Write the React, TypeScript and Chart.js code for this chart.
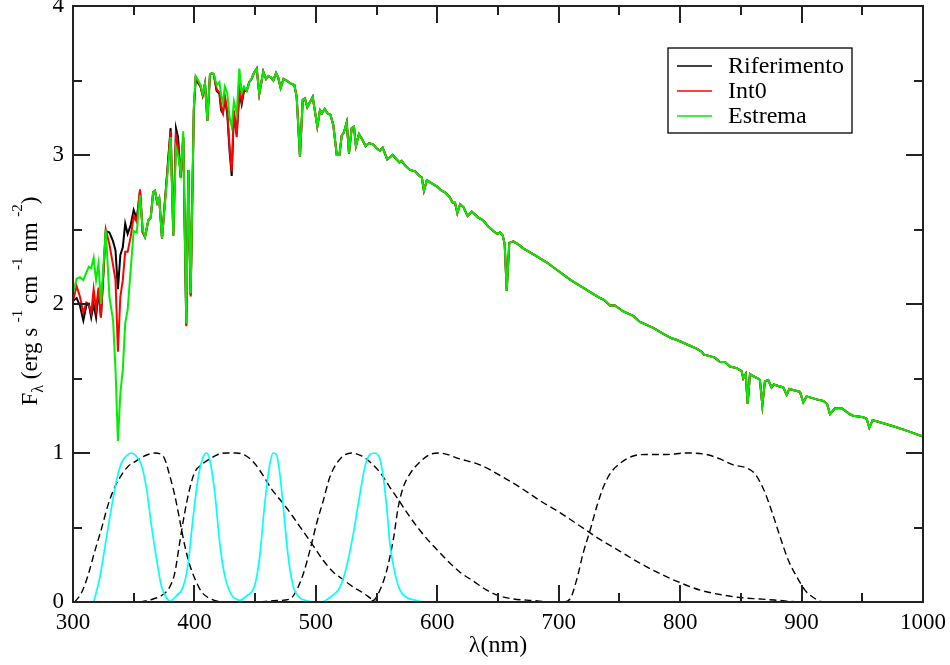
import React, { useEffect, useRef } from "react";
import { Chart, registerables } from "chart.js";

Chart.register(...registerables);

// ---------- Spectrum (UV part, where the three models differ) ----------
const wavelengthsUV = [
  300, 303, 305.7, 308.5, 311, 313, 315, 317, 319, 321, 323, 327, 330, 333, 335, 337, 339, 341, 343, 345,
  347.5, 350, 352.5, 355.2, 357.4, 359.3, 362, 364, 366, 367.5, 369.4, 371, 373.3, 380.4, 382.6, 384.8,
  386.5, 388.7, 390.8, 393.3, 395, 396.9, 399.5, 401, 403.2, 405, 406.8, 408.7, 410.7, 412.8, 414.5, 416,
  418.3, 420.6, 422, 423.5, 425, 427, 429, 430.7, 432.5, 434.8, 437, 438.9, 440.8,
];
const riferimentoUV = [
  2.02, 2.04, 1.99, 1.89, 1.99, 2.0, 1.91, 2.0, 1.91, 2.09, 1.91, 2.49, 2.48, 2.42, 2.36, 2.1, 2.33, 2.38, 2.54, 2.47,
  2.53, 2.63, 2.57, 2.76, 2.48, 2.45, 2.56, 2.58, 2.75, 2.76, 2.68, 2.71, 2.44, 3.18, 2.46, 3.18,
  3.12, 2.85, 3.12, 1.86, 2.9, 2.06, 3.3, 3.51, 3.48, 3.46, 3.4, 3.48, 3.23, 3.54, 3.55, 3.54,
  3.43, 3.41, 3.3, 3.28, 3.38, 3.28, 3.02, 2.86, 3.28, 3.14, 3.42, 3.34, 3.43,
];
const int0UV = [
  2.02, 2.12, 2.05, 1.94, 2.01, 2.0, 1.94, 2.1, 1.96, 2.11, 1.91, 2.5, 2.4, 2.26, 2.16, 1.68, 2.05, 2.16, 2.35, 2.35,
  2.45, 2.59, 2.55, 2.77, 2.48, 2.45, 2.56, 2.58, 2.75, 2.76, 2.68, 2.71, 2.44, 3.16, 2.46, 3.13,
  3.06, 2.85, 3.12, 1.85, 2.9, 2.05, 3.3, 3.52, 3.49, 3.46, 3.4, 3.48, 3.23, 3.54, 3.55, 3.54,
  3.44, 3.42, 3.32, 3.28, 3.4, 3.3, 3.05, 2.89, 3.3, 3.12, 3.45, 3.36, 3.44,
];
const estremaUV = [
  2.07, 2.17, 2.18, 2.16, 2.21, 2.25, 2.24, 2.31, 2.16, 2.27, 2.0, 2.5, 2.05, 1.89, 1.56, 1.08, 1.4, 1.56, 1.87, 1.96,
  2.23, 2.49, 2.48, 2.73, 2.5, 2.45, 2.56, 2.58, 2.75, 2.76, 2.68, 2.71, 2.44, 3.12, 2.46, 3.05,
  3.0, 2.88, 3.16, 1.87, 2.9, 2.07, 3.32, 3.53, 3.5, 3.47, 3.41, 3.48, 3.23, 3.54, 3.55, 3.54,
  3.47, 3.49, 3.4, 3.35, 3.46, 3.42, 3.25, 3.19, 3.36, 3.28, 3.58, 3.42, 3.46,
];

// ---------- Spectrum (visible/NIR part, the three models coincide) ----------
const wavelengthsVis = [
  443, 445.2, 447, 449, 451.3, 453.4, 456.7, 459, 461, 463, 465, 467.2, 469, 471, 473.4, 476, 479, 482.3, 484.2,
  486.9, 489.2, 491, 493, 497.4, 501.2, 503.4, 505, 507.3, 509.5, 512, 514.4, 517.2, 519.4, 521.3, 523, 525.4,
  527.3, 529.5, 531.4, 533, 535.5, 537.7, 541, 543.8, 547.4, 550.6, 552.8, 555, 558.8, 563.3, 566.6, 568.8,
  570.7, 573.4, 577.5, 581.7, 585.2, 587.2, 589, 591.4, 595.5, 599.6, 603.6, 606.4, 610, 612.7, 614.6, 616.5,
  618.8, 621.5, 625, 628.4, 631.1, 633.9, 638, 642, 646.2, 649.5, 651.7, 653.9, 655.5, 657.2, 659.3, 662.6,
  666.7, 671.4, 680, 690, 700, 710, 720, 728, 734, 737, 742.2, 746.3, 753.2, 761.4, 766.9, 772.4, 777.9,
  786.1, 793, 797.1, 805.3, 813.6, 817.7, 819.6, 824.5, 828.6, 832.8, 836.9, 841, 846.6, 850.6, 852, 854,
  855.6, 857.5, 861.6, 864.4, 865.7, 867.7, 869.8, 872.6, 875.3, 877.2, 880.8, 884.9, 887.7, 889.9, 894.5,
  898.7, 901.4, 904.2, 908.3, 912.4, 917.9, 921, 923.4, 927.5, 933, 939.8, 942.5, 950.8, 953.6, 955.8, 958.5,
  963.2, 967.3, 975.5, 986.5, 1000,
];
const fluxVis = [
  3.43, 3.49, 3.51, 3.55, 3.58, 3.41, 3.56, 3.51, 3.53, 3.52, 3.5, 3.55, 3.52, 3.45, 3.51, 3.5, 3.48, 3.47, 3.39,
  2.99, 3.37, 3.38, 3.32, 3.39, 3.19, 3.3, 3.28, 3.31, 3.28, 3.27, 3.2, 3.0, 3.0, 3.13, 3.15, 3.22,
  3.01, 3.18, 3.19, 3.06, 3.14, 3.11, 3.06, 3.08, 3.07, 3.04, 3.03, 3.05, 2.97, 3.0, 2.97, 2.95,
  2.96, 2.93, 2.9, 2.89, 2.86, 2.85, 2.76, 2.83, 2.81, 2.79, 2.76, 2.75, 2.72, 2.68, 2.68, 2.61,
  2.67, 2.65, 2.59, 2.62, 2.6, 2.58, 2.56, 2.52, 2.49, 2.47, 2.48, 2.46, 2.4, 2.09, 2.41, 2.42,
  2.4, 2.37, 2.33, 2.28, 2.22, 2.16, 2.11, 2.07, 2.04, 2.03, 1.99, 1.99, 1.95, 1.92, 1.88, 1.86, 1.84,
  1.8, 1.77, 1.76, 1.73, 1.7, 1.68, 1.66, 1.65, 1.64, 1.61, 1.61, 1.58, 1.57, 1.55, 1.5, 1.53,
  1.33, 1.53, 1.51, 1.5, 1.49, 1.32, 1.48, 1.49, 1.44, 1.46, 1.45, 1.44, 1.39, 1.43, 1.42,
  1.41, 1.34, 1.38, 1.37, 1.36, 1.35, 1.33, 1.26, 1.3, 1.3, 1.26, 1.25, 1.24, 1.23, 1.17, 1.22,
  1.21, 1.2, 1.18, 1.15, 1.11,
];

// ---------- Narrow-band filters (cyan, solid) ----------
const filterULam = [317, 322, 327.5, 331.6, 335.7, 339.8, 343.9, 348, 352, 356.3, 360.4, 364.5, 368.6, 372.7, 376.8, 380.1];
const filterUVal = [0, 0.16, 0.43, 0.63, 0.81, 0.93, 0.98, 1.0, 0.98, 0.92, 0.77, 0.52, 0.3, 0.11, 0.03, 0];
const filterVLam = [380, 385, 390.6, 394.7, 398.8, 403, 407, 409.8, 412.5, 416.7, 420.8, 424.9, 430.4, 437.2, 441];
const filterVVal = [0, 0.04, 0.1, 0.25, 0.56, 0.83, 0.97, 1.0, 0.96, 0.74, 0.4, 0.18, 0.05, 0.01, 0];
const filterBLam = [436, 442.7, 449.6, 453.7, 457.8, 462, 464.7, 467.5, 470.2, 473.5, 477, 481.2, 486.6, 492, 497.6];
const filterBVal = [0, 0.04, 0.11, 0.3, 0.65, 0.92, 1.0, 0.99, 0.87, 0.61, 0.32, 0.11, 0.03, 0.01, 0];
const filterYLam = [506, 513, 519.9, 525.4, 530.9, 536.4, 540.5, 544.6, 548.7, 552.8, 555.5, 558.3, 561, 565.2, 569.3, 574.8, 583, 588.5];
const filterYVal = [0, 0.04, 0.1, 0.24, 0.46, 0.73, 0.91, 0.99, 1.0, 0.96, 0.84, 0.64, 0.39, 0.19, 0.08, 0.03, 0.01, 0];

// ---------- Broad-band filters (black, dashed) ----------
const bandULam = [301.4, 306.9, 312.4, 317.9, 323.4, 328.8, 334.3, 339.8, 345.3, 350.8, 356.3, 361.8, 367.3, 372.8, 375.5, 379.6, 383.7, 387.9, 392, 396.1, 400.2, 405.7, 411.2, 416.7, 423.5];
const bandUVal = [0, 0.06, 0.18, 0.34, 0.49, 0.65, 0.77, 0.85, 0.91, 0.94, 0.97, 0.99, 1.0, 0.99, 0.96, 0.85, 0.72, 0.55, 0.38, 0.25, 0.16, 0.07, 0.03, 0.01, 0];
const bandBLam = [355, 366, 374.1, 379.6, 383.7, 387.9, 392, 396.1, 400.2, 405.7, 412.6, 419.4, 426.3, 434.5, 442.7, 449.6, 456.5, 463.3, 470.2, 477, 483.9, 490.8, 497.6, 506, 514.4, 522.6, 530.8, 539.1, 546, 550];
const bandBVal = [0, 0.02, 0.05, 0.1, 0.19, 0.4, 0.6, 0.76, 0.87, 0.92, 0.96, 0.99, 1.0, 1.0, 0.98, 0.93, 0.85, 0.76, 0.69, 0.62, 0.54, 0.46, 0.38, 0.28, 0.2, 0.15, 0.1, 0.06, 0.02, 0];
const bandVLam = [454, 467.7, 478.7, 484.2, 489.7, 495.2, 500.7, 506.1, 511.6, 519.9, 529.5, 537.7, 544.6, 552.8, 561, 569.3, 577.5, 585.8, 594, 602.2, 610.5, 618.7, 629.7, 640.7, 651.6, 662.6, 679, 695.5, 706.5];
const bandVVal = [0, 0.01, 0.02, 0.08, 0.19, 0.35, 0.53, 0.68, 0.84, 0.96, 1.0, 0.98, 0.94, 0.87, 0.77, 0.67, 0.57, 0.48, 0.4, 0.33, 0.26, 0.2, 0.14, 0.08, 0.04, 0.02, 0.01, 0, 0];
const bandRLam = [537, 547.3, 552.8, 558.3, 563.8, 567.9, 572, 577.5, 585.8, 594, 601.5, 618.7, 635.2, 651.6, 668.1, 684.6, 701, 717.5, 734, 750.5, 767, 783.4, 799.9, 816.4, 832.8, 849.3, 865.8, 882.2, 898.7, 909.7];
const bandRVal = [0, 0.01, 0.08, 0.21, 0.42, 0.64, 0.77, 0.86, 0.94, 0.99, 1.0, 0.96, 0.92, 0.85, 0.77, 0.68, 0.6, 0.51, 0.42, 0.34, 0.26, 0.19, 0.13, 0.08, 0.05, 0.03, 0.02, 0.01, 0, 0];
const bandILam = [695.5, 703.8, 709.3, 714.8, 720.2, 725.8, 731.3, 736.7, 742.2, 750.5, 761.4, 772.4, 788.9, 805.4, 821.8, 832.8, 843.8, 854.8, 861.6, 868.5, 875.4, 882.2, 889.1, 896, 902.8, 909.7, 918, 923];
const bandIVal = [0, 0, 0.02, 0.15, 0.33, 0.48, 0.64, 0.77, 0.86, 0.93, 0.98, 0.99, 0.99, 1.0, 0.99, 0.96, 0.92, 0.9, 0.86, 0.76, 0.61, 0.44, 0.28, 0.17, 0.08, 0.03, 0, 0];

// ---------- Axes ----------
const xMajorTicks = [300, 400, 500, 600, 700, 800, 900, 1000];
const xMinorTicks = [350, 450, 550, 650, 750, 850, 950];
const yMajorTicks = [0, 1, 2, 3, 4];
const yMinorTicks = [0.5, 1.5, 2.5, 3.5];
const seriesNames = ["Riferimento", "Int0", "Estrema"];
const seriesColors = ["#000000", "#ff0000", "#00ee00"];

const SERIF = "'Liberation Serif', 'DejaVu Serif', serif";

function pts(xs: number[], ys: number[]) {
  return xs.map((x, i) => ({ x, y: ys[i] }));
}

const framePlugin = {
  id: "framePlugin",
  afterDatasetsDraw(chart: any) {
    const { ctx, chartArea } = chart;
    const xs = chart.scales.x;
    const ys = chart.scales.y;
    const { left, right, top, bottom } = chartArea;
    ctx.save();
    // frame
    ctx.strokeStyle = "#222";
    ctx.lineWidth = 2;
    ctx.strokeRect(left, top, right - left, bottom - top);
    // ticks
    const major = 17;
    const minor = 9;
    ctx.beginPath();
    const xt = (v: number, len: number) => {
      const p = Math.round(xs.getPixelForValue(v));
      ctx.moveTo(p, bottom);
      ctx.lineTo(p, bottom - len);
      ctx.moveTo(p, top);
      ctx.lineTo(p, top + len);
    };
    const yt = (v: number, len: number) => {
      const p = Math.round(ys.getPixelForValue(v));
      ctx.moveTo(left, p);
      ctx.lineTo(left + len, p);
      ctx.moveTo(right, p);
      ctx.lineTo(right - len, p);
    };
    xMajorTicks.forEach((v) => xt(v, major));
    xMinorTicks.forEach((v) => xt(v, minor));
    yMajorTicks.forEach((v) => yt(v, major));
    yMinorTicks.forEach((v) => yt(v, minor));
    ctx.stroke();

    // legend
    const bx = 668, by = 48, bw = 184, bh = 85;
    ctx.fillStyle = "#fff";
    ctx.fillRect(bx, by, bw, bh);
    ctx.strokeStyle = "#000";
    ctx.lineWidth = 1.3;
    ctx.strokeRect(bx, by, bw, bh);
    ctx.font = `24px ${SERIF}`;
    ctx.textBaseline = "middle";
    ctx.textAlign = "left";
    seriesNames.forEach((name, i) => {
      const yy = 66 + i * 25;
      ctx.strokeStyle = seriesColors[i];
      ctx.lineWidth = 1.5;
      ctx.beginPath();
      ctx.moveTo(677, yy);
      ctx.lineTo(712, yy);
      ctx.stroke();
      ctx.fillStyle = "#000";
      ctx.fillText(name, 728, yy + 1);
    });

    // x title
    ctx.fillStyle = "#000";
    ctx.font = `24px ${SERIF}`;
    ctx.textAlign = "center";
    ctx.textBaseline = "alphabetic";
    ctx.fillText("λ(nm)", (left + right) / 2, 652);

    // y title (rotated, with sub/superscripts)
    const parts = [
      { t: "F", s: 23, dy: 0 },
      { t: "λ", s: 16, dy: 6 },
      { t: " (erg s ", s: 23, dy: 0 },
      { t: "-1", s: 15, dy: -15 },
      { t: " cm ", s: 23, dy: 0 },
      { t: "-1", s: 15, dy: -15 },
      { t: " nm ", s: 23, dy: 0 },
      { t: "-2", s: 15, dy: -15 },
      { t: ")", s: 23, dy: 0 },
    ];
    let total = 0;
    parts.forEach((p) => {
      ctx.font = `${p.s}px ${SERIF}`;
      total += ctx.measureText(p.t).width;
    });
    ctx.translate(37, 301);
    ctx.rotate(-Math.PI / 2);
    ctx.textAlign = "left";
    let cx = -total / 2;
    parts.forEach((p) => {
      ctx.font = `${p.s}px ${SERIF}`;
      ctx.fillText(p.t, cx, p.dy);
      cx += ctx.measureText(p.t).width;
    });
    ctx.restore();
  },
};

export default function App() {
  const ref = useRef<HTMLCanvasElement | null>(null);

  useEffect(() => {
    if (!ref.current) return;
    const spectrumX = [...wavelengthsUV, ...wavelengthsVis];
    const lineDs = (label: string, ys: number[], color: string) => ({
      label,
      data: pts(spectrumX, ys),
      borderColor: color,
      borderWidth: 2,
      pointRadius: 0,
      tension: 0,
      fill: false,
    });
    const cyan = (xs: number[], ys: number[]) => ({
      label: "filter",
      data: pts(xs, ys),
      borderColor: "#00ffff",
      borderWidth: 1.7,
      pointRadius: 0,
      cubicInterpolationMode: "monotone" as const,
      fill: false,
    });
    const dashed = (xs: number[], ys: number[]) => ({
      label: "band",
      data: pts(xs, ys),
      borderColor: "#000000",
      borderWidth: 1.4,
      borderDash: [7, 4],
      pointRadius: 0,
      cubicInterpolationMode: "monotone" as const,
      fill: false,
    });

    const chart = new Chart(ref.current, {
      type: "line",
      data: {
        datasets: [
          lineDs(seriesNames[2], [...estremaUV, ...fluxVis], seriesColors[2]),
          lineDs(seriesNames[1], [...int0UV, ...fluxVis], seriesColors[1]),
          lineDs(seriesNames[0], [...riferimentoUV, ...fluxVis], seriesColors[0]),
          cyan(filterULam, filterUVal),
          cyan(filterVLam, filterVVal),
          cyan(filterBLam, filterBVal),
          cyan(filterYLam, filterYVal),
          dashed(bandULam, bandUVal),
          dashed(bandBLam, bandBVal),
          dashed(bandVLam, bandVVal),
          dashed(bandRLam, bandRVal),
          dashed(bandILam, bandIVal),
        ] as any,
      },
      options: {
        animation: false,
        responsive: false,
        layout: { padding: { top: 6, right: 27, left: 0, bottom: 0 } },
        plugins: { legend: { display: false }, tooltip: { enabled: false } },
        scales: {
          x: {
            type: "linear",
            min: 300,
            max: 1000,
            grid: { display: false, drawTicks: false },
            border: { display: false },
            ticks: {
              stepSize: 100,
              padding: 7,
              color: "#000",
              maxRotation: 0,
              autoSkip: false,
              font: { family: SERIF, size: 23 },
              callback: (v: any) => String(v),
            },
            afterFit: (s: any) => {
              s.height = 63;
              s.paddingLeft = 0;
              s.paddingRight = 0;
              s.paddingTop = 0;
              s.paddingBottom = 0;
            },
          },
          y: {
            type: "linear",
            min: 0,
            max: 4,
            grid: { display: false, drawTicks: false },
            border: { display: false },
            ticks: {
              stepSize: 1,
              padding: 9,
              color: "#000",
              font: { family: SERIF, size: 23 },
              callback: (v: any) => String(v),
            },
            afterFit: (s: any) => {
              s.width = 73;
              s.paddingLeft = 0;
              s.paddingRight = 0;
              s.paddingTop = 0;
              s.paddingBottom = 0;
            },
          },
        },
      } as any,
      plugins: [framePlugin],
    });
    return () => chart.destroy();
  }, []);

  return (
    <div style={{ position: "absolute", left: 0, top: 0, width: 950, height: 665, background: "#fff" }}>
      <canvas ref={ref} width={950} height={665} style={{ width: 950, height: 665, display: "block" }} />
    </div>
  );
}
